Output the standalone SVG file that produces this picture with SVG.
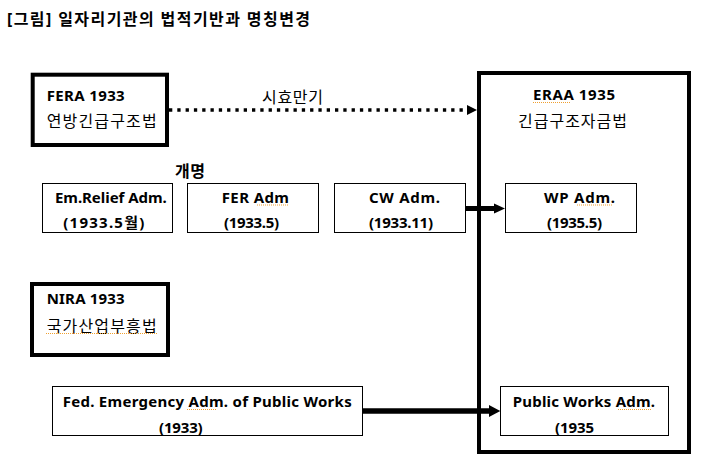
<svg xmlns="http://www.w3.org/2000/svg" width="712" height="459" viewBox="0 0 712 459">
<style>
text{font-family:"Noto Sans","Noto Sans CJK KR",sans-serif;fill:#000}
.en{font-size:15px;font-weight:bold}
.ko{font-size:16px}
.kob{font-size:16px;font-weight:bold}
.thick{fill:#fff;stroke:#000;stroke-width:4}
.thin{fill:#fff;stroke:#000;stroke-width:1}
.spell{stroke:#f0a030;stroke-width:1.2;stroke-dasharray:1 1;fill:none}
</style>
<rect width="712" height="459" fill="#fff"/>
<text class="kob" x="7" y="25" textLength="303">[그림] 일자리기관의 법적기반과 명칭변경</text>

<g id="eraa">
<rect class="thick" x="479" y="73" width="210" height="379"/>
<text class="en" x="533" y="100" textLength="82">ERAA 1935</text>
<text class="ko" x="518" y="127" textLength="109">긴급구조자금법</text>
<line class="spell" x1="533" y1="102.5" x2="570" y2="102.5"/>
</g>

<g id="fera">
<rect class="thick" x="32.7" y="74.7" width="134.3" height="70.3"/>
<text class="en" x="46.7" y="100.7" textLength="78">FERA 1933</text>
<text class="ko" x="46.7" y="127" textLength="110">연방긴급구조법</text>
</g>

<g id="nira">
<rect class="thick" x="32" y="284" width="136" height="71"/>
<text class="en" x="46.7" y="304.3" textLength="78">NIRA 1933</text>
<text class="ko" x="46.7" y="331.5" textLength="110">국가산업부흥법</text>
<line class="spell" x1="46" y1="333.5" x2="157" y2="333.5"/>
</g>

<g id="em-relief">
<rect class="thin" x="42.5" y="183.5" width="130" height="49"/>
<text class="en" x="55" y="203" textLength="111.7">Em.Relief Adm.</text>
<text class="en" x="63.3" y="228" textLength="81">(1933.5월)</text>
</g>

<g id="fer-adm">
<rect class="thin" x="187.5" y="183.5" width="131" height="49"/>
<text class="en" x="221.7" y="203" textLength="67.3">FER Adm</text>
<text class="en" x="224" y="228" textLength="55">(1933.5)</text>
<line class="spell" x1="257" y1="205" x2="289" y2="205"/>
</g>

<g id="cw-adm">
<rect class="thin" x="334.5" y="183.5" width="131" height="49"/>
<text class="en" x="369" y="203" textLength="71">CW Adm.</text>
<text class="en" x="369" y="228" textLength="64">(1933.11)</text>
</g>

<g id="wp-adm">
<rect class="thin" x="505.5" y="183.5" width="131" height="49"/>
<text class="en" x="544" y="202.7" textLength="71">WP Adm.</text>
<text class="en" x="547" y="227.5" textLength="55">(1935.5)</text>
<line class="spell" x1="577" y1="205" x2="613" y2="205"/>
</g>

<g id="fed-emergency">
<rect class="thin" x="52.5" y="386.5" width="310" height="49"/>
<text class="en" x="62.7" y="407" textLength="289">Fed. Emergency Adm. of Public Works</text>
<text class="en" x="159" y="433" textLength="43.7">(1933)</text>
<line class="spell" x1="187" y1="409.5" x2="217" y2="409.5"/>
</g>

<g id="public-works">
<rect class="thin" x="500.5" y="386.5" width="168" height="49"/>
<text class="en" x="512.7" y="407" textLength="142.3">Public Works Adm.</text>
<text class="en" x="555" y="433" textLength="39">(1935</text>
<line class="spell" x1="618" y1="409.5" x2="651" y2="409.5"/>
</g>

<g id="connectors">
<line x1="169" y1="110" x2="468" y2="110" stroke="#000" stroke-width="3.4" stroke-dasharray="3.3 5"/>
<polygon points="467,105 477,110 467,115" fill="#000"/>
<text class="ko" x="262" y="103" textLength="61">시효만기</text>
<text class="kob" x="175" y="177" textLength="30">개명</text>
<line x1="465.7" y1="208.5" x2="496" y2="208.5" stroke="#000" stroke-width="5"/>
<polygon points="494,203.5 505,208.5 494,213.5" fill="#000"/>
<line x1="362.5" y1="411" x2="491" y2="411" stroke="#000" stroke-width="5.5"/>
<polygon points="489,405 500.3,411 489,417" fill="#000"/>
</g>
</svg>
